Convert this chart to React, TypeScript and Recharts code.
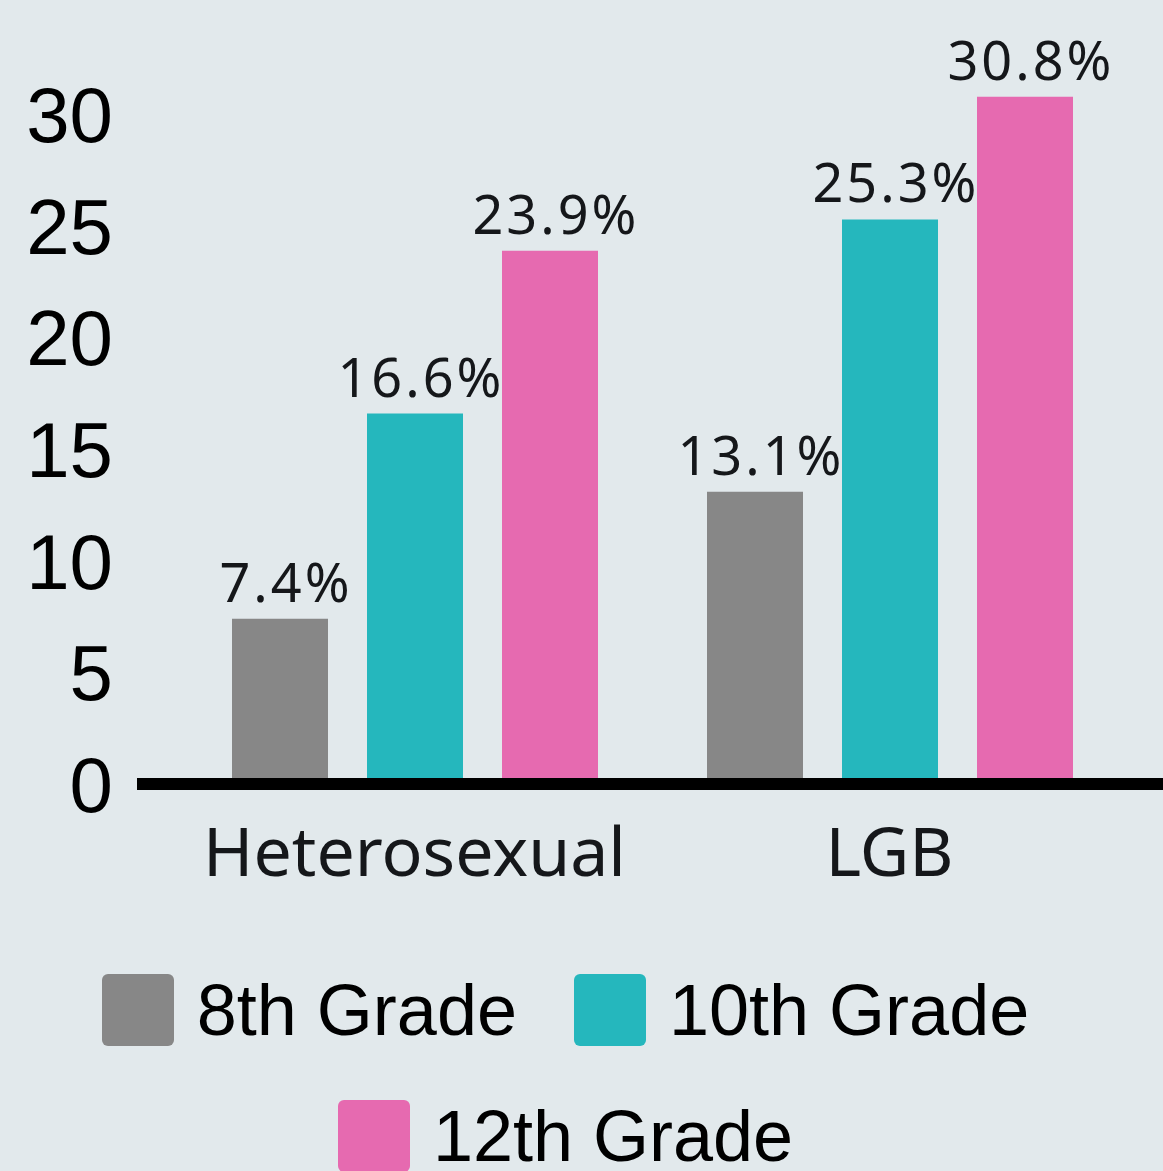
import React from "react";
import { BarChart, Bar, XAxis, YAxis, Legend, LabelList } from "recharts";

const categories = ["Heterosexual", "LGB"];
const grade8 = [7.4, 13.1];
const grade10 = [16.6, 25.3];
const grade12 = [23.9, 30.8];
const yTicks = [0, 5, 10, 15, 20, 25, 30];

const SERIES = [
  { key: "g8", name: "8th Grade", color: "#878787" },
  { key: "g10", name: "10th Grade", color: "#25b7bd" },
  { key: "g12", name: "12th Grade", color: "#e66ab0" },
];

const BG = "#e2e9ec";
const TEXT = "#15171a";

const data = categories.map((name, i) => ({
  name,
  g8: grade8[i],
  g10: grade10[i],
  g12: grade12[i],
}));

const LegendBox = () => (
  <div
    style={{
      display: "flex",
      flexWrap: "wrap",
      justifyContent: "center",
      columnGap: 57,
      rowGap: 54,
    }}
  >
    {SERIES.map((s) => (
      <div key={s.key} style={{ display: "flex", alignItems: "center" }}>
        <div
          style={{
            width: 72,
            height: 72,
            background: s.color,
            borderRadius: 6,
            marginRight: 23,
          }}
        />
        <span
          style={{
            fontFamily: "'Liberation Sans', Arial, sans-serif",
            fontSize: 72,
            lineHeight: "72px",
            color: "#000",
            whiteSpace: "nowrap",
          }}
        >
          {s.name}
        </span>
      </div>
    ))}
  </div>
);

const App: React.FC = () => {
  return (
    <div
      style={{
        position: "absolute",
        left: 0,
        top: 0,
        width: 1163,
        height: 1171,
        background: BG,
        overflow: "hidden",
      }}
    >
      <BarChart
        width={1163}
        height={1171}
        data={data}
        margin={{ top: 3, right: 0, left: 0, bottom: 267 }}
        barSize={96}
        barGap={39}
      >
        <YAxis
          width={137}
          domain={[0, 35]}
          ticks={yTicks}
          axisLine={false}
          tickLine={false}
          tickSize={0}
          tickMargin={24}
          tick={{
            fill: "#000",
            fontSize: 78,
            fontFamily: "'Liberation Sans', Arial, sans-serif",
          }}
        />
        {SERIES.map((s) => (
          <Bar key={s.key} dataKey={s.key} name={s.name} fill={s.color} isAnimationActive={false}>
            <LabelList
              dataKey={s.key}
              position="top"
              offset={17}
              dx={6}
              formatter={(v: number) => `${v}%`}
              style={{
                fill: TEXT,
                fontSize: 54,
                fontFamily: "'Noto Sans', sans-serif",
                letterSpacing: 3,
              }}
            />
          </Bar>
        ))}
        <XAxis
          dataKey="name"
          height={120}
          padding={{ left: 40, right: 36 }}
          axisLine={{ stroke: "#000", strokeWidth: 12 }}
          tickLine={false}
          tickSize={0}
          tickMargin={44}
          tick={{
            fill: TEXT,
            fontSize: 68,
            fontFamily: "'Noto Sans', sans-serif",
          }}
        />
        <Legend
          layout="horizontal"
          verticalAlign="middle"
          align="center"
          content={() => <LegendBox />}
          wrapperStyle={{ top: 974, left: 0, width: 1131 }}
        />
      </BarChart>
    </div>
  );
};

export default App;
